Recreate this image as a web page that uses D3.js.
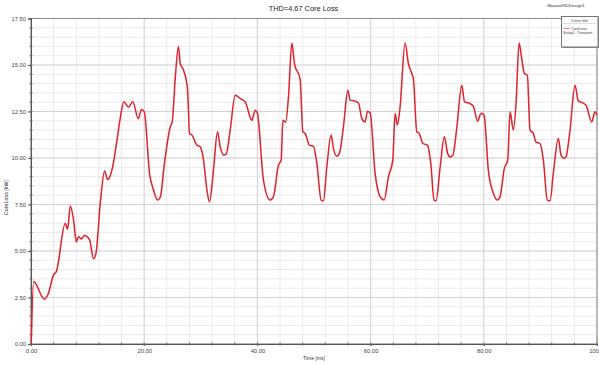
<!DOCTYPE html>
<html>
<head>
<meta charset="utf-8">
<script src="https://cdn.jsdelivr.net/npm/d3@7"></script>
<style>
  body { margin: 0; background: #fff; }
  svg { font-family: "Liberation Sans", Arial, sans-serif; }
</style>
</head>
<body>
<div id="chart"></div>
<script>
// Data
var timeMs = [0.05, 0.46, 2.35, 3.05, 3.99, 4.47, 6.06, 6.46, 6.94, 7.52, 8.00, 8.41, 8.88, 9.46, 10.35, 11.05, 11.48,
    12.24, 13.00, 13.53, 14.41, 15.19, 15.77, 16.39, 17.23, 17.98, 18.95, 19.53, 20.01, 20.98, 21.54, 22.36, 22.83,
    23.54, 24.60, 24.95, 25.48, 26.06, 26.36, 26.95, 27.65, 28.01, 28.43, 29.31, 29.90, 30.48, 31.08, 31.54, 32.24,
    32.95, 33.43, 34.01, 34.49, 35.19, 36.08, 36.96, 37.84, 39.03, 39.61, 40.01, 41.07, 42.26, 42.84, 43.72, 44.20,
    44.50, 44.99, 45.49, 46.09, 46.55, 47.55, 48.03, 48.44, 49.20, 49.90, 50.50, 51.26, 51.67, 52.27, 53.03, 53.43,
    54.03, 54.49, 55.20, 55.98, 56.38, 57.09, 57.85, 58.45, 59.04, 59.44, 59.92, 60.80, 61.68, 62.39, 63.15, 63.92,
    64.33, 64.74, 65.21, 66.09, 66.68, 67.28, 67.56, 68.16, 68.62, 69.22, 70.03, 70.63, 71.22, 71.57, 72.28, 73.03,
    73.60, 74.04, 74.52, 75.22, 76.11, 76.60, 77.31, 78.16, 78.90, 79.52, 80.05, 80.80, 81.69, 82.39, 82.87, 83.63,
    84.23, 84.64, 85.22, 85.70, 86.23, 86.70, 87.16, 87.69, 88.17, 88.75, 89.18, 89.93, 90.52, 91.22, 91.70, 92.28,
    93.17, 93.64, 94.17, 94.52, 95.23, 96.11, 96.70, 97.48, 98.06, 99.06, 99.65, 100.00];

var coreLossKW = [0.07, 3.36, 2.41, 2.70, 3.72, 3.89, 6.49, 6.17, 7.42, 6.67, 5.49, 5.77, 5.65, 5.83, 5.60, 4.58, 4.88,
    7.56, 9.30, 8.84, 9.49, 10.96, 12.14, 13.03, 12.73, 13.02, 12.12, 12.61, 12.49, 9.08, 8.39, 7.74, 7.88,
    9.62, 11.67, 11.94, 14.27, 16.00, 15.08, 14.72, 13.73, 11.32, 11.23, 10.69, 10.60, 9.89, 8.28, 7.65, 9.35,
    11.41, 10.60, 10.16, 10.21, 11.50, 13.37, 13.20, 13.02, 12.03, 12.57, 12.39, 8.81, 7.74, 7.92, 9.62, 9.89,
    12.03, 11.94, 13.28, 16.18, 15.08, 14.23, 11.41, 11.32, 10.69, 10.64, 9.71, 7.74, 7.70, 9.53, 11.23, 10.52,
    10.10, 10.25, 11.67, 13.64, 13.11, 13.07, 12.96, 12.12, 11.94, 12.52, 12.42, 9.17, 7.92, 7.74, 8.99, 9.89,
    12.39, 11.77, 12.75, 16.18, 15.08, 14.54, 14.27, 11.41, 11.32, 10.78, 10.69, 9.71, 7.74, 7.70, 9.49, 11.14,
    10.26, 10.06, 10.13, 11.60, 13.91, 13.02, 12.96, 12.78, 11.98, 12.41, 12.30, 9.35, 8.10, 7.74, 7.92, 9.44,
    9.89, 12.48, 11.50, 12.93, 16.18, 15.34, 14.54, 14.45, 11.50, 11.32, 10.87, 10.78, 9.89, 7.74, 7.70, 9.17,
    11.05, 10.16, 9.98, 10.06, 11.50, 13.91, 13.07, 12.96, 12.84, 11.94, 12.48, 12.30];

var xTickValues = [0, 20, 40, 60, 80, 100];
var xTickLabels = ["0.00", "20.00", "40.00", "60.00", "80.00", "100"];
var yTickValues = [0, 2.5, 5, 7.5, 10, 12.5, 15, 17.5];

var chartTitle = "THD=4.67 Core Loss";
var designName = "Maxwell3DDesign1";
var legendLines = ["Curve Info", "CoreLoss", "Setup1 : Transient"];

function init() {
    var W = 599, H = 365;
    var margin = {top: 18.5, right: 2, bottom: 21, left: 31},
        width = W - margin.left - margin.right,
        height = H - margin.top - margin.bottom;

    var svg = d3.select("#chart").append("svg")
        .attr("width", W)
        .attr("height", H);

    var g = svg.append("g")
        .attr("transform", "translate(" + margin.left + "," + margin.top + ")");

    var x = d3.scaleLinear().domain([0, 100]).range([0, width]);
    var y = d3.scaleLinear().domain([0, 17.5]).range([height, 0]);

    // minor grid
    g.append("g").selectAll("line")
        .data(d3.range(0, 100.01, 4))
        .join("line")
        .attr("x1", d => x(d)).attr("x2", d => x(d))
        .attr("y1", 0).attr("y2", height)
        .attr("stroke", "#eaeaea").attr("stroke-width", 1);
    g.append("g").selectAll("line")
        .data(d3.range(0, 17.51, 0.5))
        .join("line")
        .attr("x1", 0).attr("x2", width)
        .attr("y1", d => y(d)).attr("y2", d => y(d))
        .attr("stroke", "#eaeaea").attr("stroke-width", 1);

    // major grid
    g.append("g").selectAll("line")
        .data(xTickValues)
        .join("line")
        .attr("x1", d => x(d)).attr("x2", d => x(d))
        .attr("y1", 0).attr("y2", height)
        .attr("stroke", "#d2d2d2").attr("stroke-width", 1);
    g.append("g").selectAll("line")
        .data(yTickValues)
        .join("line")
        .attr("x1", 0).attr("x2", width)
        .attr("y1", d => y(d)).attr("y2", d => y(d))
        .attr("stroke", "#d2d2d2").attr("stroke-width", 1);

    // frame
    g.append("rect")
        .attr("width", width).attr("height", height)
        .attr("fill", "none").attr("stroke", "#8a8a8a").attr("stroke-width", 1);

    // axes
    var xAxis = g.append("g")
        .attr("transform", "translate(0," + height + ")")
        .call(d3.axisBottom(x).tickValues(xTickValues)
            .tickFormat((d, i) => xTickLabels[i]).tickSize(2).tickPadding(3));
    var yAxis = g.append("g")
        .call(d3.axisLeft(y).tickValues(yTickValues)
            .tickFormat(d3.format(".2f")).tickSize(3).tickPadding(2));

    [xAxis, yAxis].forEach(function (a) {
        a.select(".domain").attr("stroke", "#555");
        a.selectAll(".tick line").attr("stroke", "#555");
        a.selectAll("text").attr("fill", "#444").style("font-size", "5.8px");
    });
    // last x label sits against the right edge
    xAxis.selectAll(".tick text")
        .filter(d => d === 100)
        .attr("text-anchor", "end")
        .attr("dx", "1.5");

    // minor ticks
    g.append("g").selectAll("line")
        .data(d3.range(0, 100.01, 4))
        .join("line")
        .attr("x1", d => x(d)).attr("x2", d => x(d))
        .attr("y1", height - 1.5).attr("y2", height + 1.5)
        .attr("stroke", "#666");
    g.append("g").selectAll("line")
        .data(d3.range(0, 17.51, 0.5))
        .join("line")
        .attr("x1", -1.5).attr("x2", 1.5)
        .attr("y1", d => y(d)).attr("y2", d => y(d))
        .attr("stroke", "#666");

    // curve
    var line = d3.line()
        .x((d, i) => x(timeMs[i]))
        .y(d => y(d))
        .curve(d3.curveMonotoneX);

    g.append("path")
        .datum(coreLossKW)
        .attr("d", line)
        .attr("fill", "none")
        .attr("stroke", "#e0202c")
        .attr("stroke-width", 1.5)
        .attr("stroke-linejoin", "round");

    // titles
    svg.append("text")
        .attr("x", 303.5).attr("y", 10.5)
        .attr("text-anchor", "middle")
        .style("font-size", "7.4px").attr("fill", "#222")
        .text(chartTitle);

    svg.append("text")
        .attr("x", 566).attr("y", 7)
        .attr("text-anchor", "middle")
        .style("font-size", "4.4px").attr("fill", "#333")
        .text(designName);

    svg.append("text")
        .attr("transform", "translate(8," + (margin.top + height * 0.55) + ") rotate(-90)")
        .attr("text-anchor", "middle")
        .style("font-size", "5.4px").attr("fill", "#333")
        .text("CoreLoss [kW]");

    svg.append("text")
        .attr("x", margin.left + width / 2).attr("y", 360)
        .attr("text-anchor", "middle")
        .style("font-size", "5px").attr("fill", "#333")
        .text("Time [ms]");

    // legend box
    var lg = svg.append("g").attr("transform", "translate(561.5,16.5)");
    lg.append("rect")
        .attr("x", 1).attr("y", 1)
        .attr("width", 36.5).attr("height", 30.5)
        .attr("fill", "#999");
    lg.append("rect")
        .attr("width", 36.5).attr("height", 30.5)
        .attr("fill", "#fff").attr("stroke", "#555").attr("stroke-width", 0.8);
    lg.append("line")
        .attr("x1", 0).attr("x2", 36.5).attr("y1", 7).attr("y2", 7)
        .attr("stroke", "#bbb").attr("stroke-width", 0.5);
    lg.append("text")
        .attr("x", 18).attr("y", 5)
        .attr("text-anchor", "middle")
        .style("font-size", "3.6px").attr("fill", "#333")
        .text(legendLines[0]);
    lg.append("line")
        .attr("x1", 2).attr("x2", 8).attr("y1", 12).attr("y2", 12)
        .attr("stroke", "#e0202c").attr("stroke-width", 0.6);
    lg.append("text")
        .attr("x", 10).attr("y", 13.2)
        .style("font-size", "3.6px").attr("fill", "#333")
        .text(legendLines[1]);
    lg.append("text")
        .attr("x", 1.5).attr("y", 17.5)
        .style("font-size", "3.6px").attr("fill", "#333")
        .text(legendLines[2]);
}

init();
</script>
</body>
</html>
